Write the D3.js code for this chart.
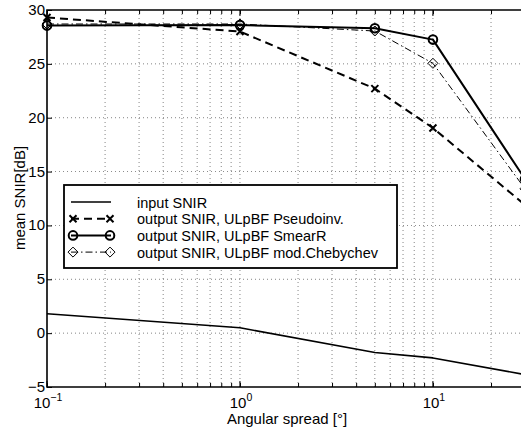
<!DOCTYPE html>
<html><head><meta charset="utf-8">
<script src="https://cdn.jsdelivr.net/npm/d3@7"></script>
<style>body{margin:0;background:#fff}svg{display:block}text{font-family:"Liberation Sans",Arial,sans-serif}</style>
</head><body><svg id="c" width="521" height="429"></svg>
<script>
const spread = [0.1, 1, 5, 10, 30];
const inputSNIR = [1.8, 0.5, -1.8, -2.3, -3.85];
const pseudoinv = [29.3, 28.0, 22.7, 19.05, 11.9];
const smearR = [28.55, 28.6, 28.3, 27.25, 14.3];
const chebychev = [28.7, 28.7, 28.05, 25.05, 13.4];
const yTicks = [-5, 0, 5, 10, 15, 20, 25, 30];
const xMajor = [0.1, 1, 10];
const legendLabels = ["input SNIR", "output SNIR, ULpBF Pseudoinv.", "output SNIR, ULpBF SmearR", "output SNIR, ULpBF mod.Chebychev"];

const svg = d3.select("#c");
const L = 47, R = 525, T = 10, B = 387;
const x = d3.scaleLog().domain([0.1, 30]).range([L, R]);
const y = d3.scaleLinear().domain([-5, 30]).range([B, T]);

const minor = [];
for (let d = 0.1; d < 30; d *= 10) for (let k = 1; k <= 9; k++) { const v = d * k; if (v <= 30 + 1e-9) minor.push(+v.toPrecision(3)); }

const g = svg.append("g");
// grid
g.selectAll(".gx").data(minor.filter(v => v > 0.1)).enter().append("line")
  .attr("x1", d => x(d)).attr("x2", d => x(d)).attr("y1", T).attr("y2", B)
  .attr("stroke", "#000").attr("stroke-width", 0.8).attr("stroke-dasharray", "1,3").attr("opacity", 0.6);
g.selectAll(".gy").data(yTicks.slice(1, -1)).enter().append("line")
  .attr("y1", d => y(d)).attr("y2", d => y(d)).attr("x1", L).attr("x2", R)
  .attr("stroke", "#000").attr("stroke-width", 0.8).attr("stroke-dasharray", "1,3").attr("opacity", 0.6);

// axes with inward ticks
const axB = d3.axisBottom(x).tickValues(minor).tickSize(-4).tickFormat("");
const axT = d3.axisTop(x).tickValues(minor).tickSize(-4).tickFormat("");
const axL = d3.axisLeft(y).tickValues(yTicks).tickSize(-5).tickFormat("");
const gb = g.append("g").attr("transform", `translate(0,${B})`).call(axB);
const gt = g.append("g").attr("transform", `translate(0,${T})`).call(axT);
const gl = g.append("g").attr("transform", `translate(${L},0)`).call(axL);
[gb, gt, gl].forEach(a => { a.select(".domain").remove(); a.selectAll("line").attr("stroke", "#000").attr("stroke-width", 1); });
// major x ticks longer
[B, T].forEach((yy, i) => {
  g.selectAll(null).data(xMajor).enter().append("line")
    .attr("x1", d => x(d)).attr("x2", d => x(d)).attr("y1", yy).attr("y2", i === 0 ? yy - 6 : yy + 6)
    .attr("stroke", "#000").attr("stroke-width", 1);
});
// box
g.append("path").attr("d", `M${R},${T}H${L}V${B}H${R}`).attr("fill", "none").attr("stroke", "#000").attr("stroke-width", 1.6);

// tick labels
g.selectAll(".yl").data(yTicks).enter().append("text")
  .attr("x", L - 2).attr("y", d => y(d) + 5).attr("text-anchor", "end").attr("font-size", 15).text(d => d < 0 ? "\u2212" + Math.abs(d) : d);
xMajor.forEach(v => {
  const t = g.append("text").attr("x", x(v) + 1).attr("y", 408).attr("text-anchor", "middle").attr("font-size", 15);
  t.append("tspan").text("10");
  t.append("tspan").attr("dy", -7).attr("font-size", 10.5).text(Math.log10(v) < 0 ? "\u22121" : Math.round(Math.log10(v)));
});
g.append("text").attr("x", 287).attr("y", 424).attr("text-anchor", "middle").attr("font-size", 15).text("Angular spread [°]");
g.append("text").attr("transform", "translate(25,198) rotate(-90)").attr("text-anchor", "middle").attr("font-size", 15).text("mean SNIR[dB]");

// series
const clip = svg.append("clipPath").attr("id", "pc").append("rect").attr("x", L).attr("y", 0).attr("width", R - L).attr("height", B + 2);
const pg = svg.append("g").attr("clip-path", "url(#pc)");
const line = d3.line().x(d => x(d[0])).y(d => y(d[1]));
const series = [
  { v: inputSNIR, w: 1.6, dash: null, m: null },
  { v: pseudoinv, w: 2, dash: "8,5", m: "x" },
  { v: smearR, w: 2, dash: null, m: "o" },
  { v: chebychev, w: 1, dash: "7,3,1.5,3", m: "d" }
];
function marker(sel, type, cx, cy) {
  if (type === "x") {
    sel.append("path").attr("d", `M${cx-3.5},${cy-3.5}L${cx+3.5},${cy+3.5}M${cx-3.5},${cy+3.5}L${cx+3.5},${cy-3.5}`).attr("stroke", "#000").attr("stroke-width", 2).attr("fill", "none");
  } else if (type === "o") {
    sel.append("circle").attr("cx", cx).attr("cy", cy).attr("r", 4.3).attr("fill", "none").attr("stroke", "#000").attr("stroke-width", 2);
  } else if (type === "d") {
    sel.append("path").attr("d", `M${cx},${cy-5}L${cx+5},${cy}L${cx},${cy+5}L${cx-5},${cy}Z`).attr("fill", "none").attr("stroke", "#000").attr("stroke-width", 1);
  }
}
series.forEach(s => {
  const pts = spread.map((xv, i) => [xv, s.v[i]]);
  pg.append("path").attr("d", line(pts)).attr("fill", "none").attr("stroke", "#000").attr("stroke-width", s.w)
    .attr("stroke-dasharray", s.dash).attr("stroke-linejoin", "round");
});
series.forEach(s => { if (s.m) spread.forEach((xv, i) => marker(svg, s.m, x(xv), y(s.v[i]))); });

// legend
const lg = svg.append("g");
lg.append("rect").attr("x", 64).attr("y", 185).attr("width", 333).attr("height", 83).attr("fill", "#fff").attr("stroke", "#000").attr("stroke-width", 1.8);
legendLabels.forEach((lab, i) => {
  const yy = 202 + i * 16.7;
  const s = series[i];
  lg.append("line").attr("x1", 71).attr("x2", 111).attr("y1", yy).attr("y2", yy).attr("stroke", "#000").attr("stroke-width", s.w).attr("stroke-dasharray", s.dash);
  if (s.m) { marker(lg, s.m, 73, yy); marker(lg, s.m, 110, yy); }
  lg.append("text").attr("x", 137).attr("y", yy + 5.5).attr("font-size", 14.5).text(lab);
});
</script></body></html>
